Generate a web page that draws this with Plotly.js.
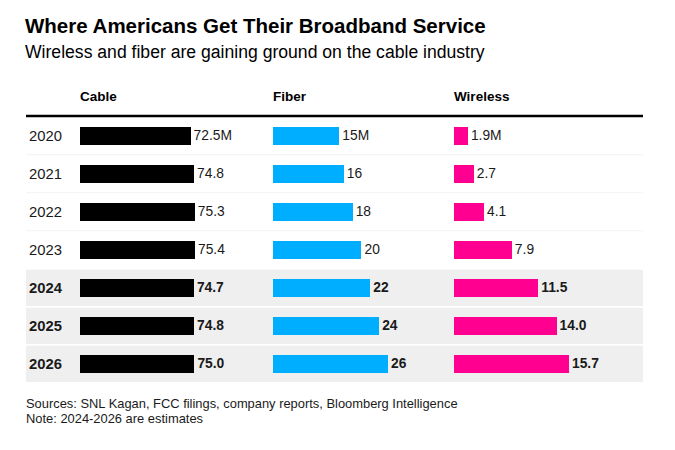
<!DOCTYPE html>
<html>
<head>
<meta charset="utf-8">
<script src="https://cdn.plot.ly/plotly-3.0.1.min.js"></script>
<style>html,body{margin:0;padding:0;background:#fff;}#chart{width:675px;height:450px;}</style>
</head>
<body>
<div id="chart"></div>
<script>
// ---- data ----
const years = ["2020","2021","2022","2023","2024","2025","2026"];
const isEstimate = [false,false,false,false,true,true,true];
const cable = [72.5,74.8,75.3,75.4,74.7,74.8,75.0];
const fiber = [15,16,18,20,22,24,26];
const wireless = [1.9,2.7,4.1,7.9,11.5,14.0,15.7];
const columnNames = ["Cable","Fiber","Wireless"];
const decimals = [1,0,1];

// ---- layout helpers (pixel geometry) ----
const W = 675, H = 450;
const px = v => v / W;
const py = v => 1 - v / H;
const font = "'Liberation Sans', Arial, sans-serif";
const colors = ["#000000","#00aeff","#ff0090"];
const colStart = [80, 273, 454];
const colEnd = [262, 444, 640];
const maxBarPx = 115;
const series = [cable, fiber, wireless];

function labels(vals, dec){
  return vals.map((v,i)=>{
    let s = v.toFixed(dec) + (i===0 ? "M" : "");
    return isEstimate[i] ? "<b>"+s+"</b>" : s;
  });
}

const traces = series.map((vals,k)=>({
  type:"bar", orientation:"h",
  x: vals, y: years,
  xaxis: k===0 ? "x" : "x"+(k+1), yaxis:"y",
  marker:{color:colors[k]},
  width:0.47,
  text: labels(vals, decimals[k]),
  textposition:"outside",
  textangle:0,
  constraintext:"none",
  cliponaxis:false,
  textfont:{family:font,size:13.8,color:"#1a1a1a"},
  hoverinfo:"skip"
}));

const layout = {
  width:W, height:H,
  margin:{l:0,r:0,t:0,b:0},
  paper_bgcolor:"#fff", plot_bgcolor:"rgba(0,0,0,0)",
  showlegend:false,
  bargap:0,
  yaxis:{type:"category", range:[years.length-0.5,-0.5], domain:[py(382.7),py(116.7)],
         visible:false, fixedrange:true},
  shapes:[], annotations:[]
};
series.forEach((vals,k)=>{
  const key = k===0 ? "xaxis" : "xaxis"+(k+1);
  const widthPx = colEnd[k]-colStart[k];
  const mx = Math.max(...vals);
  layout[key] = {domain:[px(colStart[k]),px(colEnd[k])], range:[0, mx*widthPx/maxBarPx],
                 visible:false, fixedrange:true, anchor:"y"};
});

// row backgrounds and separators
years.forEach((y,i)=>{
  if(isEstimate[i]){
    layout.shapes.push({type:"rect", xref:"paper", yref:"y", x0:px(26), x1:px(643),
      y0:i-0.5+0.03, y1:i+0.5-0.02, fillcolor:"#efefef", line:{width:0}, layer:"below"});
  } else if(i < years.length-1 && !isEstimate[i+1]){
    layout.shapes.push({type:"line", xref:"paper", yref:"y", x0:px(26), x1:px(643),
      y0:i+0.5, y1:i+0.5, line:{color:"#f3f3f3", width:1}, layer:"below"});
  }
  layout.annotations.push({xref:"paper", yref:"y", x:px(27), y:i, xanchor:"left", yanchor:"middle",
    text: isEstimate[i] ? "<b>"+y+"</b>" : y, showarrow:false,
    font:{family:font,size:14.8,color:"#1a1a1a"}});
});
// header rule
layout.shapes.push({type:"line", xref:"paper", yref:"paper", x0:px(26), x1:px(643),
  y0:py(116), y1:py(116), line:{color:"#000", width:2.5}});

// column headers
columnNames.forEach((n,k)=>{
  layout.annotations.push({xref:"paper", yref:"paper", x:px(colStart[k]-2), y:py(96),
    xanchor:"left", yanchor:"middle", text:"<b>"+n+"</b>", showarrow:false,
    font:{family:font,size:13.5,color:"#000"}});
});

// titles and notes
layout.annotations.push(
  {xref:"paper", yref:"paper", x:px(23), y:py(25), xanchor:"left", yanchor:"middle",
   text:"<b>Where Americans Get Their Broadband Service</b>", showarrow:false,
   font:{family:font,size:20.5,color:"#000"}},
  {xref:"paper", yref:"paper", x:px(23), y:py(52), xanchor:"left", yanchor:"middle",
   text:"Wireless and fiber are gaining ground on the cable industry", showarrow:false,
   font:{family:font,size:17.6,color:"#000"}},
  {xref:"paper", yref:"paper", x:px(24), y:py(403), xanchor:"left", yanchor:"middle",
   text:"Sources: SNL Kagan, FCC filings, company reports, Bloomberg Intelligence", showarrow:false,
   font:{family:font,size:12.9,color:"#1a1a1a"}},
  {xref:"paper", yref:"paper", x:px(24), y:py(418), xanchor:"left", yanchor:"middle",
   text:"Note: 2024-2026 are estimates", showarrow:false,
   font:{family:font,size:12.9,color:"#1a1a1a"}}
);

Plotly.newPlot("chart", traces, layout, {displayModeBar:false, staticPlot:true});
</script>
</body>
</html>
